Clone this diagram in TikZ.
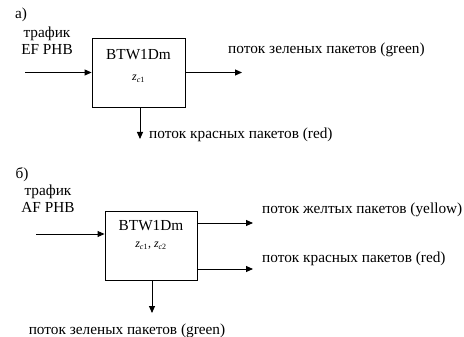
\documentclass[tikz,border=0pt]{standalone}
\usepackage{fontspec}
\setmainfont{Liberation Serif}
\usetikzlibrary{arrows.meta,positioning}

\begin{document}
\begin{tikzpicture}[
    x=1pt, y=-1pt,
    font=\fontsize{15.3}{17}\selectfont,
    blk/.style={draw, line width=0.9pt, inner sep=0pt},
    arr/.style={-{Triangle[length=7pt,width=6pt]}, line width=0.9pt},
    lbl/.style={anchor=west, inner sep=0pt},
    zlbl/.style={font=\fontsize{12}{14}\selectfont},
  ]
    \useasboundingbox (0,0) rectangle (464,337);

    % а)
    \node (capa) at (21,15) {а)};
    \node[align=center] (trafa) at (47,41) {трафик\\EF PHB};
    \node[blk, minimum width=93pt, minimum height=69pt] (btwa) at (138.5,72.5) {};
    \node (namea) at (138.5,55) {BTW1Dm};
    \node[zlbl] (za) at (138.5,79) {\textit{z}\textsubscript{\textit{c}1}};
    \coordinate (ina)   at (25,72.5);
    \coordinate (outa)  at (242,72.5);
    \coordinate (downa) at (140,139);
    \node[lbl] (greena) at (228,50) {поток зеленых пакетов (green)};
    \node[lbl] (reda)   at (149,135) {поток красных пакетов (red)};

    \draw[arr] (ina) -- (btwa.west);
    \draw[arr] (btwa.east) -- (outa);
    \draw[arr] (btwa.south -| downa) -- (downa);

    % б)
    \node (capb) at (22,175) {б)};
    \node[align=center] (trafb) at (48,199) {трафик\\AF PHB};
    \node[blk, minimum width=92pt, minimum height=69pt] (btwb) at (151,245.5) {};
    \node (nameb) at (151,226) {BTW1Dm};
    \node[zlbl] (zb) at (151,246) {\textit{z}\textsubscript{\textit{c}1}, \textit{z}\textsubscript{\textit{c}2}};
    \coordinate (inb)      at (36,234);
    \coordinate (yellowb0) at (253,223);
    \coordinate (redb0)    at (253,269);
    \coordinate (downb)    at (152,313);
    \node[lbl] (yellowb) at (262,210) {поток желтых пакетов (yellow)};
    \node[lbl] (redb)    at (262,259) {поток красных пакетов (red)};
    \node (greenb) at (127,331) {поток зеленых пакетов (green)};

    \draw[arr] (inb) -- (btwb.west |- inb);
    \draw[arr] (btwb.east |- yellowb0) -- (yellowb0);
    \draw[arr] (btwb.east |- redb0) -- (redb0);
    \draw[arr] (btwb.south -| downb) -- (downb);
\end{tikzpicture}
\end{document}
